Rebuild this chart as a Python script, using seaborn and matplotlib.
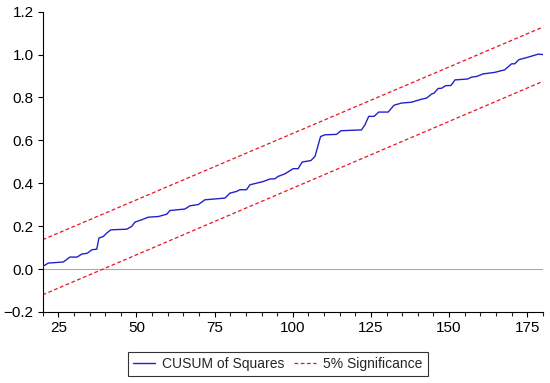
import matplotlib
matplotlib.use("Agg")
import matplotlib.pyplot as plt
import seaborn as sns
import pandas as pd
from matplotlib.ticker import MultipleLocator, FixedLocator

# CUSUM of squares (breakpoints)
cusum_x = [20, 21.8, 26.6, 28.7, 31, 32.5, 34.3, 35.7, 37.3, 38, 39.4, 40.5, 41.8,
           46.9, 48.5, 49.5, 51.7, 53.8, 57, 59.7, 60.7, 65.5, 67.1, 69.8, 71.9,
           78.3, 79.9, 82, 83.1, 85.2, 86.3, 90.5, 92.7, 94.3, 95.3, 97.5, 100.1,
           101.7, 103, 105.8, 107.1, 108.9, 110.3, 114, 115.4, 122, 123.1, 124.3,
           126, 127.5, 130.5, 132.4, 134.8, 138, 141.2, 142.8, 144.4, 145.2, 146.5,
           147.6, 148.9, 150.6, 151.9, 155.9, 157.2, 158.8, 160.9, 164.6, 167.8,
           170, 171, 172.3, 175.3, 178.5, 180]
cusum_y = [0.012, 0.028, 0.033, 0.056, 0.056, 0.070, 0.074, 0.090, 0.093, 0.145,
           0.152, 0.168, 0.183, 0.186, 0.199, 0.219, 0.230, 0.242, 0.245, 0.256,
           0.273, 0.280, 0.295, 0.301, 0.323, 0.331, 0.354, 0.362, 0.370, 0.370,
           0.393, 0.408, 0.420, 0.421, 0.432, 0.444, 0.468, 0.468, 0.499, 0.506,
           0.525, 0.618, 0.626, 0.628, 0.645, 0.649, 0.673, 0.712, 0.712, 0.732,
           0.732, 0.764, 0.774, 0.778, 0.792, 0.797, 0.816, 0.820, 0.842, 0.843,
           0.855, 0.856, 0.882, 0.886, 0.895, 0.898, 0.910, 0.917, 0.929, 0.957,
           0.957, 0.976, 0.988, 1.002, 1.000]

# 5% significance bounds
sig_x = [20, 180]
sig_upper = [0.137, 1.128]
sig_lower = [-0.120, 0.875]

y_ticks = [-0.2, 0.0, 0.2, 0.4, 0.6, 0.8, 1.0, 1.2]
x_ticks = [25, 50, 75, 100, 125, 150, 175]

sns.set_style("ticks")
plt.rcParams['font.family'] = ['Liberation Sans', 'DejaVu Sans']
plt.rcParams['axes.unicode_minus'] = True

fig = plt.figure(figsize=(5.5, 3.83), dpi=100)
ax = fig.add_axes([0.0776, 0.1854, 0.9094, 0.7841])

blue = "#2222CC"
red = "#EE1122"
dash = (0, (3, 2))

df_c = pd.DataFrame({"x": cusum_x, "y": cusum_y})
df_u = pd.DataFrame({"x": sig_x, "y": sig_upper})
df_l = pd.DataFrame({"x": sig_x, "y": sig_lower})

ax.axhline(0, color="#AAAAAA", lw=0.8, zorder=1)
sns.lineplot(data=df_c, x="x", y="y", ax=ax, color=blue, lw=1.0,
             label="CUSUM of Squares", zorder=3)
sns.lineplot(data=df_u, x="x", y="y", ax=ax, color=red, lw=0.9,
             label="5% Significance", zorder=2)
ax.lines[-1].set_linestyle(dash)
sns.lineplot(data=df_l, x="x", y="y", ax=ax, color=red, lw=0.9, zorder=2)
ax.lines[-1].set_linestyle(dash)

ax.set_xlim(20, 180)
ax.set_ylim(-0.2, 1.2)
ax.xaxis.set_major_locator(FixedLocator(x_ticks))
ax.xaxis.set_minor_locator(MultipleLocator(5))
ax.yaxis.set_major_locator(FixedLocator(y_ticks))
ax.set_yticklabels([f"{v:.1f}".replace("-", "\u2212") for v in y_ticks])
ax.set_xlabel("")
ax.set_ylabel("")
for s in ["top", "right"]:
    ax.spines[s].set_visible(False)
for s in ["left", "bottom"]:
    ax.spines[s].set_linewidth(0.8)
    ax.spines[s].set_color("black")
ax.tick_params(axis="both", which="major", direction="out", length=3.5,
               width=0.8, labelsize=11, colors="black", pad=3)
ax.tick_params(axis="x", which="minor", direction="out", length=3, width=0.8)

handles, labels = ax.get_legend_handles_labels()
handles[1].set_linestyle(dash)
leg = fig.legend(handles[:2], labels[:2], loc="center", bbox_to_anchor=(0.505, 0.050),
                 ncol=2, frameon=True, fancybox=False, fontsize=10,
                 handlelength=1.6, columnspacing=0.7, handletextpad=0.5,
                 borderpad=0.35, edgecolor="black")
leg.get_frame().set_linewidth(0.8)
if ax.get_legend() is not None:
    ax.get_legend().remove()

fig.savefig("out.png", dpi=100)
